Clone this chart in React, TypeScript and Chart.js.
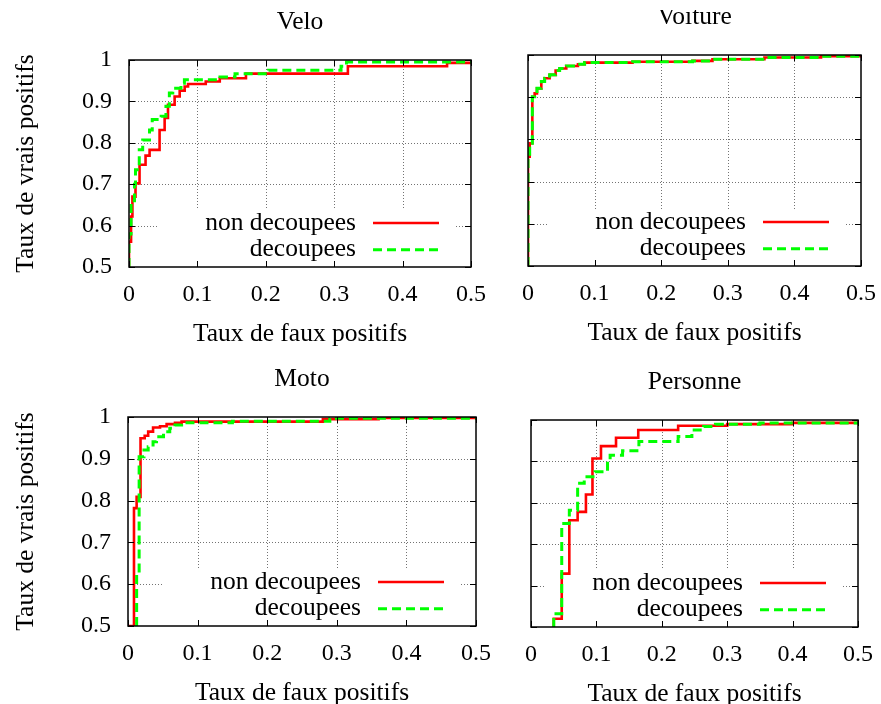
import React, { useEffect, useRef } from 'react';
import { Chart, registerables } from 'chart.js';

Chart.register(...registerables);
Chart.defaults.font.family = '"Liberation Serif", "Times New Roman", serif';
Chart.defaults.color = '#000';

// ---------- data ----------
const xTicks = [0, 0.1, 0.2, 0.3, 0.4, 0.5];
const yTicks = [0.5, 0.6, 0.7, 0.8, 0.9, 1];
const seriesLabels = ['non decoupees', 'decoupees'];
const panelTitles = ['Velo', 'Voiture', 'Moto', 'Personne'];
const xTitle = 'Taux de faux positifs';
const yTitle = 'Taux de vrais positifs';

const veloNonFpr = [0, 0, 0.003, 0.003, 0.005, 0.005, 0.0095, 0.0095, 0.0154, 0.0154, 0.0242, 0.0242, 0.0301, 0.0301, 0.0447, 0.0447, 0.0521, 0.0521, 0.057, 0.057, 0.0667, 0.0667, 0.0741, 0.0741, 0.0814, 0.0814, 0.0863, 0.0863, 0.1122, 0.1122, 0.1327, 0.1327, 0.171, 0.171, 0.32, 0.32, 0.465, 0.465, 0.5];
const veloNonTpr = [0.5, 0.561, 0.561, 0.622, 0.622, 0.67, 0.67, 0.702, 0.702, 0.747, 0.747, 0.769, 0.769, 0.783, 0.783, 0.831, 0.831, 0.86, 0.86, 0.892, 0.892, 0.912, 0.912, 0.926, 0.926, 0.936, 0.936, 0.942, 0.942, 0.948, 0.948, 0.956, 0.956, 0.967, 0.967, 0.985, 0.985, 0.993, 0.993];
const veloDecFpr = [0, 0, 0.003, 0.003, 0.008, 0.008, 0.0095, 0.0095, 0.015, 0.015, 0.02, 0.02, 0.03, 0.03, 0.034, 0.034, 0.047, 0.047, 0.054, 0.054, 0.059, 0.059, 0.064, 0.064, 0.076, 0.076, 0.081, 0.081, 0.133, 0.133, 0.155, 0.155, 0.204, 0.204, 0.31, 0.31, 0.318, 0.318, 0.5];
const veloDecTpr = [0.5, 0.58, 0.58, 0.66, 0.66, 0.7, 0.7, 0.735, 0.735, 0.783, 0.783, 0.807, 0.807, 0.831, 0.831, 0.856, 0.856, 0.864, 0.864, 0.888, 0.888, 0.92, 0.92, 0.932, 0.932, 0.944, 0.944, 0.952, 0.952, 0.959, 0.959, 0.967, 0.967, 0.975, 0.975, 0.985, 0.985, 0.995, 0.995];

const voitureNonFpr = [0, 0, 0.0025, 0.0025, 0.0065, 0.0065, 0.01, 0.01, 0.0135, 0.0135, 0.02, 0.02, 0.025, 0.025, 0.0325, 0.0325, 0.0415, 0.0415, 0.0475, 0.0475, 0.0575, 0.0575, 0.075, 0.075, 0.085, 0.085, 0.157, 0.157, 0.247, 0.247, 0.277, 0.277, 0.355, 0.355, 0.44, 0.44, 0.5];
const voitureNonTpr = [0.5, 0.759, 0.759, 0.791, 0.791, 0.901, 0.901, 0.909, 0.909, 0.921, 0.921, 0.937, 0.937, 0.945, 0.945, 0.953, 0.953, 0.963, 0.963, 0.968, 0.968, 0.974, 0.974, 0.978, 0.978, 0.982, 0.982, 0.984, 0.984, 0.986, 0.986, 0.99, 0.99, 0.994, 0.994, 0.997, 0.997];
const voitureDecFpr = [0, 0, 0.0025, 0.0025, 0.0065, 0.0065, 0.01, 0.01, 0.0135, 0.0135, 0.02, 0.02, 0.025, 0.025, 0.0325, 0.0325, 0.0415, 0.0415, 0.0475, 0.0475, 0.0575, 0.0575, 0.075, 0.075, 0.085, 0.085, 0.157, 0.157, 0.247, 0.247, 0.277, 0.277, 0.355, 0.355, 0.44, 0.44, 0.5];
const voitureDecTpr = [0.5, 0.759, 0.759, 0.791, 0.791, 0.901, 0.901, 0.909, 0.909, 0.921, 0.921, 0.937, 0.937, 0.945, 0.945, 0.953, 0.953, 0.963, 0.963, 0.968, 0.968, 0.974, 0.974, 0.978, 0.978, 0.982, 0.982, 0.984, 0.984, 0.986, 0.986, 0.99, 0.99, 0.994, 0.994, 0.997, 0.997];

const motoNonFpr = [0, 0.0086, 0.0086, 0.0124, 0.0124, 0.018, 0.018, 0.024, 0.024, 0.029, 0.029, 0.036, 0.036, 0.046, 0.046, 0.0555, 0.0555, 0.0675, 0.0675, 0.077, 0.077, 0.28, 0.28, 0.36, 0.36, 0.5];
const motoNonTpr = [0.5, 0.5, 0.782, 0.782, 0.809, 0.809, 0.949, 0.949, 0.955, 0.955, 0.965, 0.965, 0.975, 0.975, 0.978, 0.978, 0.983, 0.983, 0.986, 0.986, 0.989, 0.989, 0.995, 0.995, 0.998, 0.998];
const motoDecFpr = [0.0124, 0.0124, 0.016, 0.016, 0.023, 0.023, 0.029, 0.029, 0.036, 0.036, 0.041, 0.041, 0.051, 0.051, 0.06, 0.06, 0.0675, 0.0675, 0.077, 0.077, 0.15, 0.15, 0.29, 0.29, 0.5];
const motoDecTpr = [0.5, 0.626, 0.626, 0.905, 0.905, 0.921, 0.921, 0.929, 0.929, 0.941, 0.941, 0.953, 0.953, 0.965, 0.965, 0.973, 0.973, 0.981, 0.981, 0.986, 0.986, 0.99, 0.99, 0.997, 0.997];

const personneNonFpr = [0.0348, 0.0348, 0.047, 0.047, 0.0586, 0.0586, 0.0713, 0.0713, 0.084, 0.084, 0.094, 0.094, 0.107, 0.107, 0.13, 0.13, 0.164, 0.164, 0.225, 0.225, 0.3, 0.3, 0.4, 0.4, 0.5];
const personneNonTpr = [0.5, 0.52, 0.52, 0.629, 0.629, 0.758, 0.758, 0.778, 0.778, 0.82, 0.82, 0.907, 0.907, 0.937, 0.937, 0.957, 0.957, 0.976, 0.976, 0.986, 0.986, 0.99, 0.99, 0.993, 0.993];
const personneDecFpr = [0.0348, 0.0348, 0.047, 0.047, 0.0586, 0.0586, 0.0713, 0.0713, 0.0814, 0.0814, 0.098, 0.098, 0.117, 0.117, 0.121, 0.121, 0.14, 0.14, 0.165, 0.165, 0.225, 0.225, 0.246, 0.246, 0.264, 0.264, 0.282, 0.282, 0.35, 0.35, 0.5];
const personneDecTpr = [0.5, 0.532, 0.532, 0.75, 0.75, 0.782, 0.782, 0.847, 0.847, 0.863, 0.863, 0.875, 0.875, 0.903, 0.903, 0.915, 0.915, 0.926, 0.926, 0.948, 0.948, 0.96, 0.96, 0.976, 0.976, 0.984, 0.984, 0.99, 0.99, 0.993, 0.993];

const panels = [
  { title: panelTitles[0], nonFpr: veloNonFpr, nonTpr: veloNonTpr, decFpr: veloDecFpr, decTpr: veloDecTpr },
  { title: panelTitles[1], nonFpr: voitureNonFpr, nonTpr: voitureNonTpr, decFpr: voitureDecFpr, decTpr: voitureDecTpr },
  { title: panelTitles[2], nonFpr: motoNonFpr, nonTpr: motoNonTpr, decFpr: motoDecFpr, decTpr: motoDecTpr },
  { title: panelTitles[3], nonFpr: personneNonFpr, nonTpr: personneNonTpr, decFpr: personneDecFpr, decTpr: personneDecTpr },
];

// ---------- layout (plot frames in page pixels) ----------
const frames = [
  { L: 129, T: 60, R: 471, B: 267, showY: true, clip: 0 },
  { L: 528, T: 55, R: 861, B: 266, showY: false, clip: 10 },
  { L: 128, T: 417, R: 476, B: 626, showY: true, clip: 0 },
  { L: 531, T: 420, R: 858, B: 627, showY: false, clip: 0 },
];
const TITLE_H = 58;
const X_AXIS_H = 95;
const TEXT_SIZE = 25.5;
const TICK_SIZE = 24;
const LEGEND_FONT = `${TEXT_SIZE}px "Liberation Serif", "Times New Roman", serif`;

const zip = (xs: number[], ys: number[]) => xs.map((x, i) => ({ x, y: ys[i] }));

function legendBox(chart: any) {
  const { ctx, chartArea: a } = chart;
  ctx.save();
  ctx.font = LEGEND_FONT;
  let maxW = 0;
  chart.data.datasets.forEach((ds: any) => {
    maxW = Math.max(maxW, ctx.measureText(ds.label).width);
  });
  ctx.restore();
  const textRight = a.right - 115;
  return {
    textRight,
    left: textRight - maxW - 48,
    right: a.right - 16,
    top: a.bottom - 57,
    bottom: a.bottom,
  };
}

const gnuplotPlugin = {
  id: 'gnuplotStyle',
  beforeDatasetsDraw(chart: any) {
    const { ctx, chartArea: a, scales } = chart;
    const x = scales.x;
    const y = scales.y;
    ctx.save();
    ctx.strokeStyle = 'rgba(0,0,0,0.55)';
    ctx.lineWidth = 1;
    ctx.setLineDash([1, 2]);
    ctx.beginPath();
    xTicks.forEach((v) => {
      if (v > x.min && v < x.max) {
        const px = Math.round(x.getPixelForValue(v)) + 0.5;
        ctx.moveTo(px, a.top);
        ctx.lineTo(px, a.bottom);
      }
    });
    yTicks.forEach((v) => {
      if (v > y.min && v < y.max) {
        const py = Math.round(y.getPixelForValue(v)) + 0.5;
        ctx.moveTo(a.left, py);
        ctx.lineTo(a.right, py);
      }
    });
    ctx.stroke();
    ctx.setLineDash([]);
    const box = legendBox(chart);
    ctx.fillStyle = '#fff';
    ctx.fillRect(box.left, box.top, box.right - box.left, box.bottom - box.top);
    ctx.restore();
  },
  afterDatasetsDraw(chart: any) {
    const { ctx, chartArea: a, scales } = chart;
    const x = scales.x;
    const y = scales.y;
    ctx.save();
    // inward tick marks on all four sides
    ctx.strokeStyle = '#000';
    ctx.lineWidth = 1;
    ctx.beginPath();
    xTicks.forEach((v) => {
      const px = Math.round(x.getPixelForValue(v)) + 0.5;
      ctx.moveTo(px, a.bottom);
      ctx.lineTo(px, a.bottom - 6);
      ctx.moveTo(px, a.top);
      ctx.lineTo(px, a.top + 6);
    });
    yTicks.forEach((v) => {
      const py = Math.round(y.getPixelForValue(v)) + 0.5;
      ctx.moveTo(a.left, py);
      ctx.lineTo(a.left + 6, py);
      ctx.moveTo(a.right, py);
      ctx.lineTo(a.right - 6, py);
    });
    ctx.stroke();
    // frame
    ctx.lineWidth = 1.5;
    ctx.strokeRect(a.left, a.top, a.right - a.left, a.bottom - a.top);
    // key
    const box = legendBox(chart);
    ctx.font = LEGEND_FONT;
    ctx.textAlign = 'right';
    ctx.textBaseline = 'middle';
    chart.data.datasets.forEach((ds: any, i: number) => {
      const rowY = a.bottom - 44 + i * 26.7;
      ctx.fillStyle = '#000';
      ctx.fillText(ds.label, box.textRight, rowY);
      ctx.strokeStyle = ds.borderColor;
      ctx.lineWidth = ds.borderWidth;
      ctx.setLineDash(ds.borderDash || []);
      ctx.beginPath();
      ctx.moveTo(a.right - 98, rowY);
      ctx.lineTo(a.right - 32, rowY);
      ctx.stroke();
    });
    ctx.restore();
  },
};

function PanelChart({ idx }: { idx: number }) {
  const ref = useRef<HTMLCanvasElement>(null);
  const f = frames[idx];
  const p = panels[idx];
  const yW = f.showY ? f.L : 40;
  const cl = f.L - yW;
  const cw = f.R - f.L + 2 * yW;
  const ct = f.T - TITLE_H;
  const ch = TITLE_H + (f.B - f.T) + X_AXIS_H;

  useEffect(() => {
    const chart = new Chart(ref.current as HTMLCanvasElement, {
      type: 'line',
      data: {
        datasets: [
          {
            label: seriesLabels[0],
            data: zip(p.nonFpr, p.nonTpr),
            borderColor: '#ff0000',
            borderWidth: 2.6,
            pointRadius: 0,
            fill: false,
            tension: 0,
            order: 1,
          },
          {
            label: seriesLabels[1],
            data: zip(p.decFpr, p.decTpr),
            borderColor: '#00ff00',
            borderWidth: 3,
            borderDash: [9, 5],
            borderCapStyle: 'butt',
            pointRadius: 0,
            fill: false,
            tension: 0,
            order: 0,
          },
        ],
      },
      options: {
        animation: false,
        responsive: false,
        maintainAspectRatio: false,
        devicePixelRatio: 1,
        events: [],
        layout: { padding: 0, autoPadding: false },
        plugins: {
          legend: { display: false },
          tooltip: { enabled: false },
          title: {
            display: true,
            text: p.title,
            color: '#000',
            font: { size: TEXT_SIZE, weight: 'normal' },
            padding: { top: 5, bottom: 22.4 },
          },
        },
        scales: {
          x: {
            type: 'linear',
            min: 0,
            max: 0.5,
            afterBuildTicks: (s: any) => {
              s.ticks = xTicks.map((v) => ({ value: v }));
            },
            afterFit: (s: any) => {
              s.height = X_AXIS_H;
            },
            grid: { display: false, drawTicks: false },
            border: { display: false },
            ticks: {
              autoSkip: false,
              maxRotation: 0,
              padding: 13,
              color: '#000',
              font: { size: TICK_SIZE },
              callback: (v: any) => String(v),
            },
            title: {
              display: true,
              text: xTitle,
              color: '#000',
              font: { size: TEXT_SIZE },
              padding: { top: 0, bottom: 12.7 },
            },
          },
          y: {
            type: 'linear',
            position: 'left',
            min: 0.5,
            max: 1,
            afterBuildTicks: (s: any) => {
              s.ticks = yTicks.map((v) => ({ value: v }));
            },
            afterFit: (s: any) => {
              s.width = yW;
            },
            grid: { display: false, drawTicks: false },
            border: { display: false },
            ticks: {
              display: f.showY,
              autoSkip: false,
              padding: 17,
              color: '#000',
              font: { size: TICK_SIZE },
              callback: (v: any) => String(v),
            },
            title: {
              display: f.showY,
              text: yTitle,
              color: '#000',
              font: { size: TEXT_SIZE },
              padding: { top: 10.5, bottom: 0 },
            },
          },
          // empty right-hand box, same width as the left axis, so the title centres on the plot
          yRight: {
            type: 'linear',
            position: 'right',
            axis: 'y',
            min: 0,
            max: 1,
            afterFit: (s: any) => {
              s.width = yW;
            },
            grid: { display: false, drawTicks: false },
            border: { display: false },
            ticks: { display: false },
            title: { display: false },
          },
        },
      } as any,
      plugins: [gnuplotPlugin],
    } as any);
    return () => chart.destroy();
  }, []);

  return (
    <div
      style={{
        position: 'absolute',
        left: 0,
        top: f.clip,
        width: 881,
        height: 704 - f.clip,
        overflow: 'hidden',
      }}
    >
      <canvas
        ref={ref}
        width={cw}
        height={ch}
        style={{ position: 'absolute', left: cl, top: ct - f.clip, width: cw, height: ch }}
      />
    </div>
  );
}

export default function App() {
  return (
    <div
      style={{
        position: 'fixed',
        left: 0,
        top: 0,
        width: 881,
        height: 704,
        overflow: 'hidden',
        background: '#fff',
      }}
    >
      {panels.map((_, i) => (
        <PanelChart key={i} idx={i} />
      ))}
    </div>
  );
}
